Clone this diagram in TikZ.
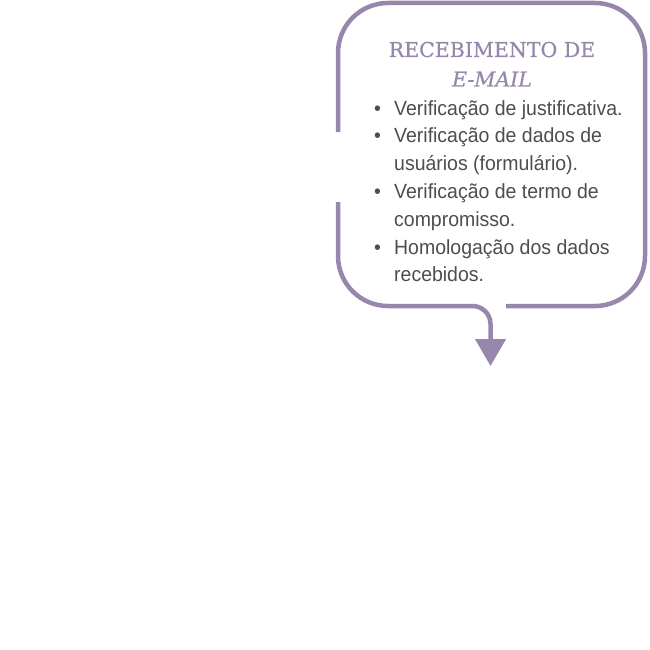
\documentclass[tikz,border=0pt]{standalone}
\usepackage{fontspec}
\setmainfont{Liberation Sans}[FakeStretch=0.95]
\newfontfamily\titlefont{DejaVu Serif}[FakeBold=0.6]
\usetikzlibrary{arrows.meta}
\definecolor{lav}{HTML}{9787AC}
\definecolor{txt}{HTML}{4D4D4D}
\tikzset{
  frame/.style={draw=lav, line width=4.5pt, line cap=butt},
  titletext/.style={text=lav, font=\titlefont\fontsize{20.5}{29.5}\selectfont, inner sep=0pt, anchor=base},
  bodytext/.style={text=txt, font=\fontsize{20.5}{27.8}\selectfont, inner sep=0pt, anchor=north west, align=left}
}
\newcommand{\bul}{\makebox[21pt][l]{\hspace{1pt}\textbullet}}
\newcommand{\ind}{\hspace*{21pt}}
\begin{document}
\begin{tikzpicture}[x=1pt,y=-1pt]
\useasboundingbox (0,0) rectangle (650,650);
% title
\node[titletext] (t1) at (492,57) {RECEBIMENTO DE};
\node[titletext] (t2) at (492,86.5) {\itshape E-MAIL};
% body
\node[bodytext] (body) at (373,100) {%
\bul Verificação de justificativa.\\
\bul Verificação de dados de\\
\ind usuários (formulário).\\
\bul Verificação de termo de\\
\ind compromisso.\\
\bul Homologação dos dados\\
\ind recebidos.};
% frame
\coordinate (gapA) at (338,132);
\coordinate (gapB) at (338,202);
\coordinate (openR) at (506,306);
\coordinate (tip) at (490.5,366);
\draw[frame, rounded corners=50pt] (gapA) -- (338,3) -- (645,3) -- (645,306) -- (openR);
\draw[frame, rounded corners=50pt] (gapB) -- (338,306) -- (440,306);
\draw[frame, rounded corners=18pt, -{Triangle[width=30pt,length=27pt]}] (440,306) -- (490.5,306) -- (tip);
\end{tikzpicture}
\end{document}
